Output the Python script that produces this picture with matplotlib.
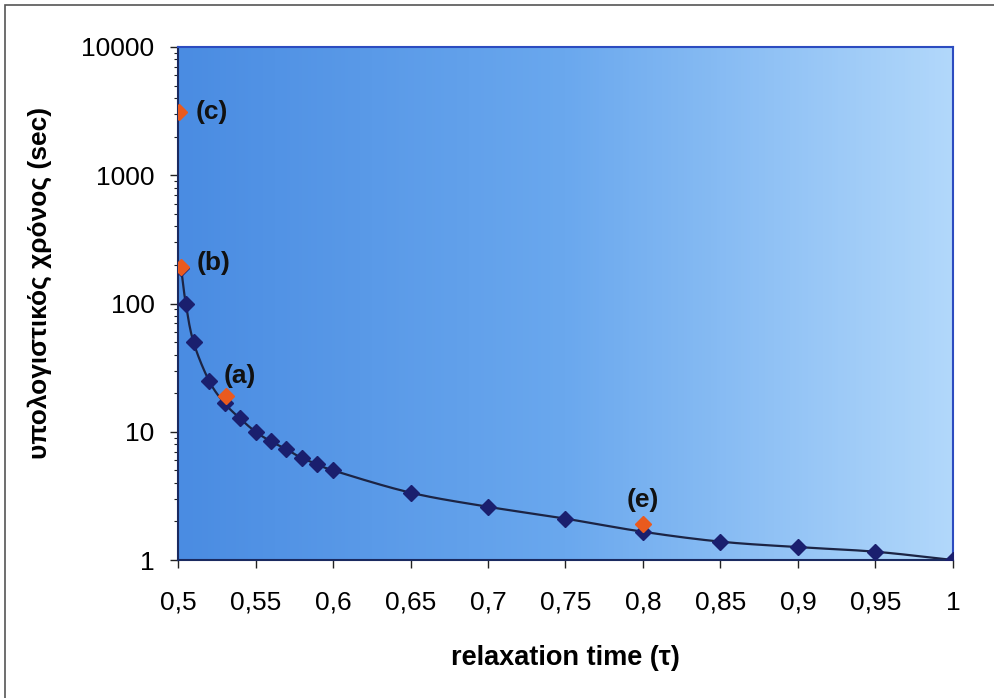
import numpy as np
import matplotlib
matplotlib.use("Agg")
import matplotlib.pyplot as plt
from matplotlib.ticker import FixedLocator, LogLocator, NullFormatter
from matplotlib.patches import Rectangle
from matplotlib.colors import LinearSegmentedColormap

plt.rcParams['font.family'] = ['Liberation Sans', 'DejaVu Sans']

# data
tau = [0.502, 0.505, 0.51, 0.52, 0.53, 0.54, 0.55, 0.56, 0.57, 0.58, 0.59, 0.6,
       0.65, 0.7, 0.75, 0.8, 0.85, 0.9, 0.95, 1.0]
cpu_time = [190, 100, 50, 25, 16.7, 12.7, 10.0, 8.4, 7.3, 6.2, 5.6, 5.0,
            3.35, 2.6, 2.1, 1.66, 1.39, 1.26, 1.16, 1.0]

special_tau = [0.5005, 0.502, 0.531, 0.8]
special_time = [3100, 193, 19.1, 1.91]
special_labels = ['(c)', '(b)', '(a)', '(e)']

xticks = [0.5, 0.55, 0.6, 0.65, 0.7, 0.75, 0.8, 0.85, 0.9, 0.95, 1.0]
xtick_labels = ['0,5', '0,55', '0,6', '0,65', '0,7', '0,75', '0,8', '0,85', '0,9', '0,95', '1']


def smooth(xs, ys, n=20):
    # catmull-rom through the points (log y), like excel's smoothed line
    x = np.array(xs, float)
    y = np.log10(np.array(ys, float))
    px = np.concatenate([[2 * x[0] - x[1]], x, [2 * x[-1] - x[-2]]])
    py = np.concatenate([[2 * y[0] - y[1]], y, [2 * y[-1] - y[-2]]])
    ox, oy = [], []
    t = np.linspace(0, 1, n, endpoint=False)
    for i in range(1, len(px) - 2):
        for p, out in ((px, ox), (py, oy)):
            p0, p1, p2, p3 = p[i - 1], p[i], p[i + 1], p[i + 2]
            out.extend(0.5 * ((2 * p1) + (-p0 + p2) * t +
                              (2 * p0 - 5 * p1 + 4 * p2 - p3) * t ** 2 +
                              (-p0 + 3 * p1 - 3 * p2 + p3) * t ** 3))
    ox.append(x[-1])
    oy.append(y[-1])
    return np.array(ox), 10 ** np.array(oy)


fig = plt.figure(figsize=(9.95, 6.98), dpi=100)
fig.patch.set_facecolor('white')
# outer frame (cropped scan: only left/top visible)
fig.add_artist(Rectangle((5 / 995, -0.1), 1.2, 693 / 698 + 0.1, transform=fig.transFigure,
                         fill=False, edgecolor='#555555', lw=1.2))

ax = fig.add_axes([178 / 995, 1 - 560 / 698, (953 - 178) / 995, (560 - 47) / 698])

cmap = LinearSegmentedColormap.from_list('bg', ['#4a8ce2', '#6aa8ee', '#b2d8fb'])
grad = np.linspace(0, 1, 256).reshape(1, -1)
ax.imshow(grad, cmap=cmap, aspect='auto', extent=[0, 1, 0, 1],
          transform=ax.transAxes, zorder=0)

sx, sy = smooth(tau, cpu_time)
ax.plot(sx, sy, color='#1c2444', lw=1.6, zorder=2)
ax.plot(tau, cpu_time, 'D', color='#1a1f6e', ms=8, zorder=3)
ax.plot(special_tau, special_time, 'D', color='#ea5a1e', ms=8, zorder=4)

offsets = [(12, 0), (11, 3), (-2, 14), (0, 17)]
aligns = ['left', 'left', 'left', 'center']
for xv, yv, lab, off, ha in zip(special_tau, special_time, special_labels, offsets, aligns):
    ax.annotate(lab, (xv, yv), xytext=off, textcoords='offset points',
                ha=ha, va='center', fontsize=19, fontweight='bold', color='#111111')

ax.set_yscale('log')
ax.set_xlim(0.5, 1.0)
ax.set_ylim(1, 10000)
ax.set_yticks([1, 10, 100, 1000, 10000])
ax.set_yticklabels(['1', '10', '100', '1000', '10000'])
ax.yaxis.set_minor_locator(LogLocator(base=10, subs=np.arange(2, 10)))
ax.yaxis.set_minor_formatter(NullFormatter())
ax.xaxis.set_major_locator(FixedLocator(xticks))
ax.set_xticklabels(xtick_labels)

ax.tick_params(axis='both', which='major', labelsize=19, length=6, width=1, color='#222222')
ax.tick_params(axis='x', which='major', pad=16)
ax.tick_params(axis='y', which='major', pad=11)
ax.tick_params(axis='y', which='minor', length=3, width=0.8, color='#222222')

for s in ['left', 'bottom']:
    ax.spines[s].set_color('#1a2a60')
    ax.spines[s].set_linewidth(1.5)
for s in ['top', 'right']:
    ax.spines[s].set_color('#2c4cc0')
    ax.spines[s].set_linewidth(1.5)

ax.set_xlabel('relaxation time (τ)', fontsize=19.5, fontweight='bold', va='top')
ax.xaxis.set_label_coords(0.5, -0.165)
ax.set_ylabel('υπολογιστικός χρόνος (sec)', fontsize=19, fontweight='bold')
ax.yaxis.set_label_coords(-0.163, 0.54)

fig.savefig('out.png', dpi=100)
